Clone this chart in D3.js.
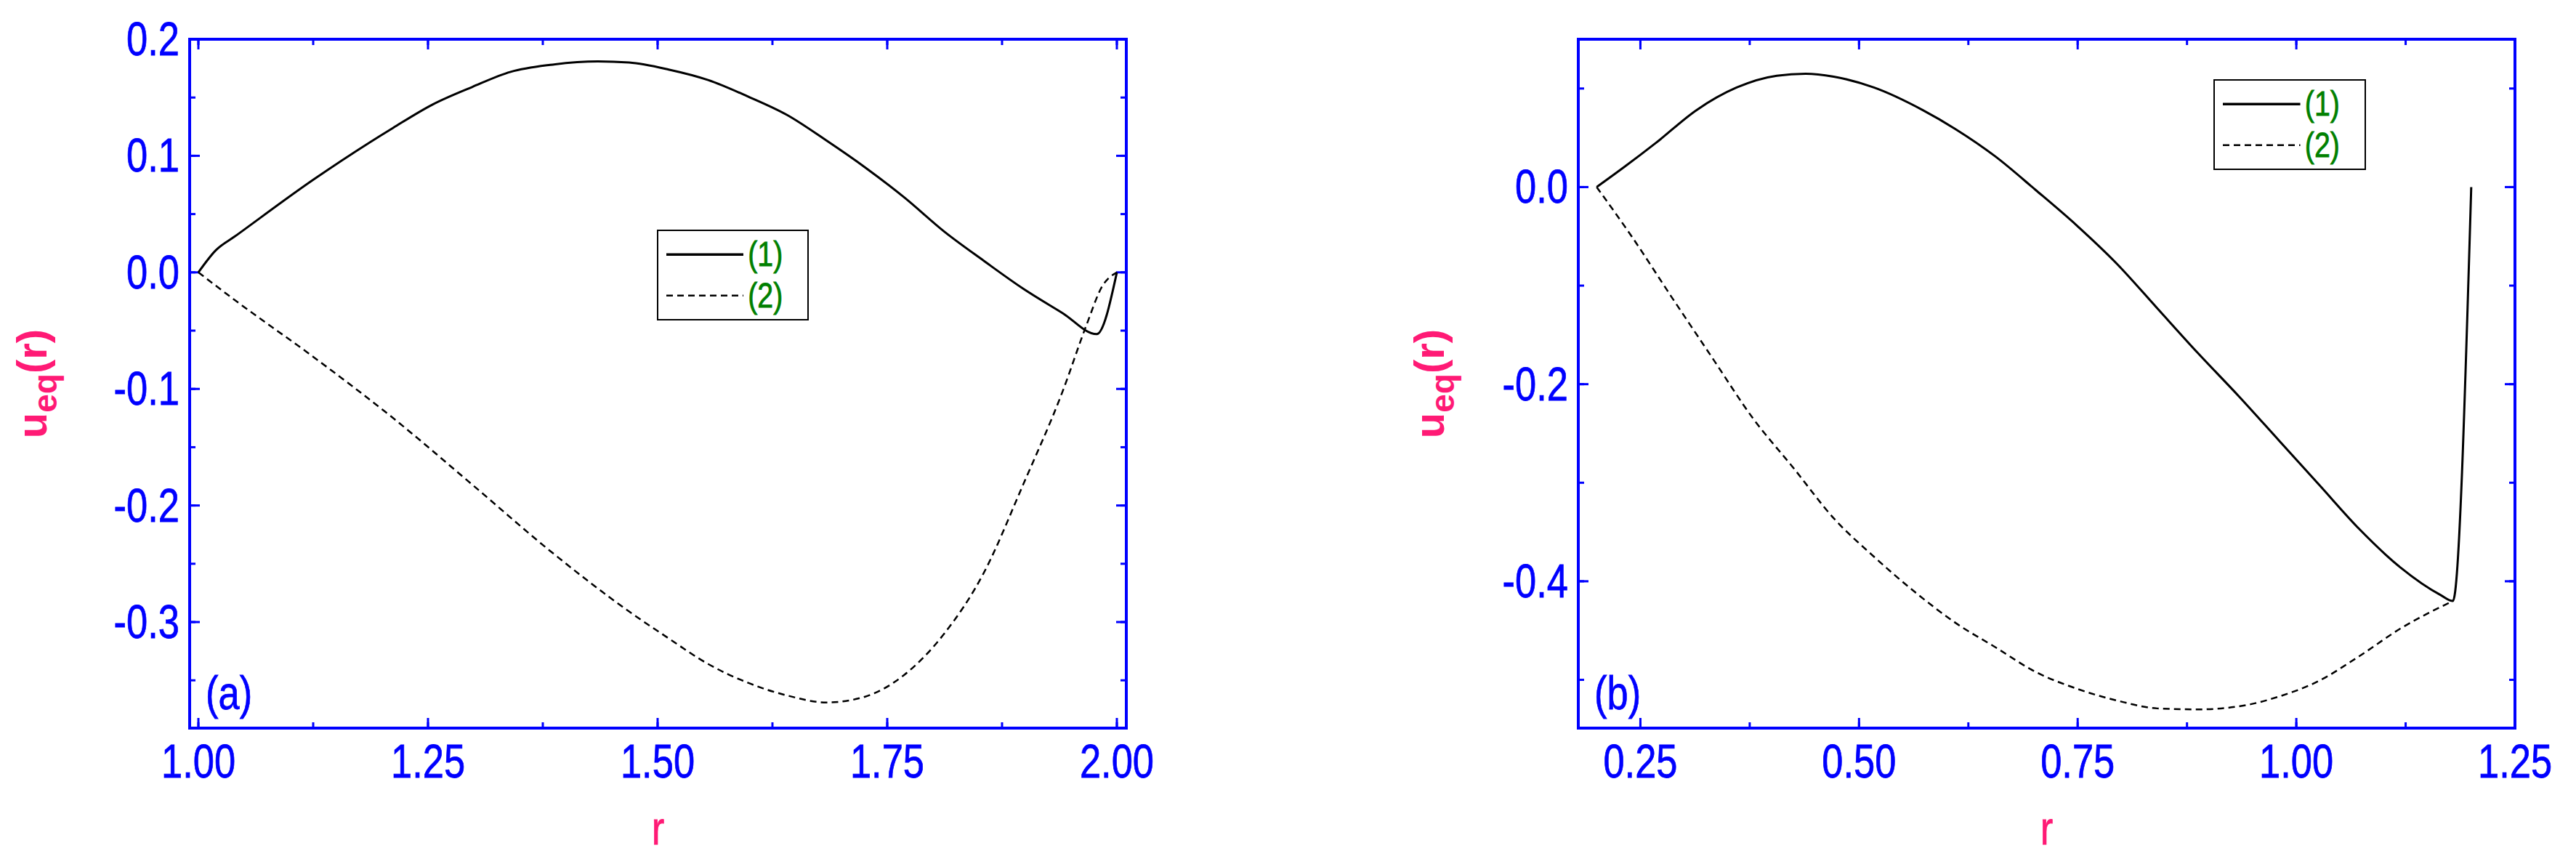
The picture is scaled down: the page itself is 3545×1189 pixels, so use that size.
<!DOCTYPE html>
<html><head><meta charset="utf-8">
<script src="https://cdn.jsdelivr.net/npm/d3@7"></script>
<style>body{margin:0;background:#fff}</style>
</head><body>
<svg id="c" width="3545" height="1189"></svg>
<script>
// panel (a) data
var aX1 = [1.0,1.019,1.040,1.126,1.212,1.255,1.298,1.340,1.383,1.435,1.469,1.512,1.555,1.598,1.641,1.684,1.726,1.769,1.812,1.855,1.898,1.941,1.978,2.0];
var aY1 = [0,0.019,0.031,0.080,0.124,0.144,0.159,0.172,0.178,0.181,0.180,0.174,0.165,0.151,0.135,0.113,0.090,0.064,0.035,0.010,-0.014,-0.035,-0.053,0];
var aX2 = [1.0,1.040,1.126,1.212,1.298,1.383,1.469,1.512,1.555,1.598,1.641,1.684,1.726,1.769,1.812,1.855,1.898,1.941,1.967,1.984,2.0];
var aY2 = [0,-0.024,-0.073,-0.125,-0.182,-0.239,-0.291,-0.314,-0.336,-0.352,-0.363,-0.369,-0.364,-0.345,-0.310,-0.258,-0.182,-0.102,-0.045,-0.012,0];
// panel (b) data
var bX1 = [0.200,0.231,0.268,0.314,0.360,0.406,0.439,0.471,0.517,0.573,0.610,0.656,0.702,0.749,0.795,0.841,0.887,0.934,0.980,1.026,1.072,1.119,1.165,1.179,1.200];
var bY1 = [0,0.020,0.045,0.078,0.101,0.113,0.115,0.112,0.101,0.078,0.059,0.031,-0.003,-0.039,-0.078,-0.123,-0.168,-0.212,-0.257,-0.302,-0.347,-0.386,-0.414,-0.420,0];
var bX2 = [0.200,0.240,0.286,0.332,0.379,0.425,0.471,0.517,0.564,0.610,0.656,0.702,0.749,0.795,0.841,0.887,0.934,0.980,1.026,1.072,1.119,1.179];
var bY2 = [0,-0.050,-0.112,-0.173,-0.235,-0.285,-0.336,-0.375,-0.411,-0.442,-0.467,-0.492,-0.509,-0.521,-0.529,-0.530,-0.527,-0.517,-0.501,-0.476,-0.448,-0.420];
var aXTicks = [1.0,1.25,1.5,1.75,2.0], aYTicks = [-0.3,-0.2,-0.1,0.0,0.1,0.2];
var bXTicks = [0.25,0.5,0.75,1.0,1.25], bYTicks = [-0.4,-0.2,0.0];
var legendLabels = ["(1)","(2)"];

var svg = d3.select("#c");
var blue = "#0000ff", pink = "#ff1a75", green = "#008000";
var font = "'Liberation Sans',Arial,sans-serif";

// condensed text: draw with horizontal squeeze like the narrow font of the original
function narrowText(g, x, y, txt, size, color, anchor) {
  return g.append("text").attr("transform", "translate(" + x + "," + y + ") scale(0.82,1)")
    .attr("text-anchor", anchor || "start").attr("font-family", font).attr("font-size", size)
    .attr("fill", color).attr("stroke", color).attr("stroke-width", 0.8).text(txt);
}

function panel(o) {
  var x = d3.scaleLinear().domain(o.xd).range([o.l, o.r]);
  var y = d3.scaleLinear().domain(o.yd).range([o.b, o.t]);
  var g = svg.append("g");
  function ticks(vals, len) {
    vals.forEach(function (v) {
      if (v < o.xd[0] || v > o.xd[1]) return;
      g.append("line").attr("x1", x(v)).attr("x2", x(v)).attr("y1", o.b).attr("y2", o.b - len);
      g.append("line").attr("x1", x(v)).attr("x2", x(v)).attr("y1", o.t).attr("y2", o.t + len);
    });
  }
  function yticks(vals, len) {
    vals.forEach(function (v) {
      if (v < o.yd[0] || v > o.yd[1]) return;
      g.append("line").attr("y1", y(v)).attr("y2", y(v)).attr("x1", o.l).attr("x2", o.l + len);
      g.append("line").attr("y1", y(v)).attr("y2", y(v)).attr("x1", o.r).attr("x2", o.r - len);
    });
  }
  ticks(o.xt, 14); ticks(d3.range(o.xt[0] - o.xm, o.xd[1] + 1e-9, o.xm), 8);
  yticks(o.yt, 14); yticks(d3.range(o.yt[0] - o.ym, o.yd[1] + 1e-9, o.ym), 8);
  g.selectAll("line").attr("stroke", blue).attr("stroke-width", 3);
  g.append("rect").attr("x", o.l).attr("y", o.t).attr("width", o.r - o.l).attr("height", o.b - o.t)
    .attr("fill", "none").attr("stroke", blue).attr("stroke-width", 4);

  o.xt.forEach(function (d) { narrowText(g, x(d), o.b + 68, d.toFixed(2), 64, blue, "middle"); });
  o.yt.forEach(function (d) { narrowText(g, o.l - 14, y(d) + 22, d.toFixed(1), 64, blue, "end"); });

  var line = d3.line().curve(d3.curveMonotoneX).x(d => x(d[0])).y(d => y(d[1]));
  g.append("path").datum(d3.zip(o.x1, o.y1)).attr("d", line).attr("fill", "none").attr("stroke", "#000").attr("stroke-width", 3);
  g.append("path").datum(d3.zip(o.x2, o.y2)).attr("d", line).attr("fill", "none").attr("stroke", "#000").attr("stroke-width", 2.5).attr("stroke-dasharray", "9,6");

  var L = o.leg;
  g.append("rect").attr("x", L[0]).attr("y", L[1]).attr("width", L[2]).attr("height", L[3])
    .attr("fill", "#fff").attr("stroke", "#000").attr("stroke-width", 2);
  legendLabels.forEach(function (t, i) {
    var yy = L[1] + L[3] * (i === 0 ? 0.27 : 0.73);
    g.append("line").attr("x1", L[0] + 12).attr("x2", L[0] + 0.57 * L[2]).attr("y1", yy).attr("y2", yy)
      .attr("stroke", "#000").attr("stroke-width", i === 0 ? 3.5 : 2.5).attr("stroke-dasharray", i === 0 ? null : "9,6");
    narrowText(g, L[0] + 0.6 * L[2], yy + 16, t, 48, green);
  });

  narrowText(g, o.l + 22, o.b - 26, o.tag, 64, blue);
  narrowText(g, (o.l + o.r) / 2, o.b + 160, "r", 64, pink, "middle");
  var yl = g.append("text").attr("transform", "translate(" + o.ylx + "," + (o.t + o.b) / 2 + ") rotate(-90)")
    .attr("text-anchor", "middle").attr("font-family", font)
    .attr("font-weight", "bold").attr("font-size", 58).attr("fill", pink);
  yl.append("tspan").text("u");
  yl.append("tspan").attr("dy", 14).attr("font-size", 46).text("eq");
  yl.append("tspan").attr("dy", -14).text("(r)");
}

panel({ l: 261, r: 1550, t: 54, b: 1002, xd: [0.9905, 2.0103], yd: [-0.391, 0.2], xt: aXTicks, xm: 0.125,
  yt: aYTicks, ym: 0.05, x1: aX1, y1: aY1, x2: aX2, y2: aY2, leg: [905, 317, 207, 123], tag: "(a)", ylx: 64 });
panel({ l: 2172, r: 3461, t: 54, b: 1002, xd: [0.179, 1.25], yd: [-0.549, 0.15], xt: bXTicks, xm: 0.125,
  yt: bYTicks, ym: 0.1, x1: bX1, y1: bY1, x2: bX2, y2: bY2, leg: [3047, 110, 208, 123], tag: "(b)", ylx: 1987 });
</script>
</body></html>
